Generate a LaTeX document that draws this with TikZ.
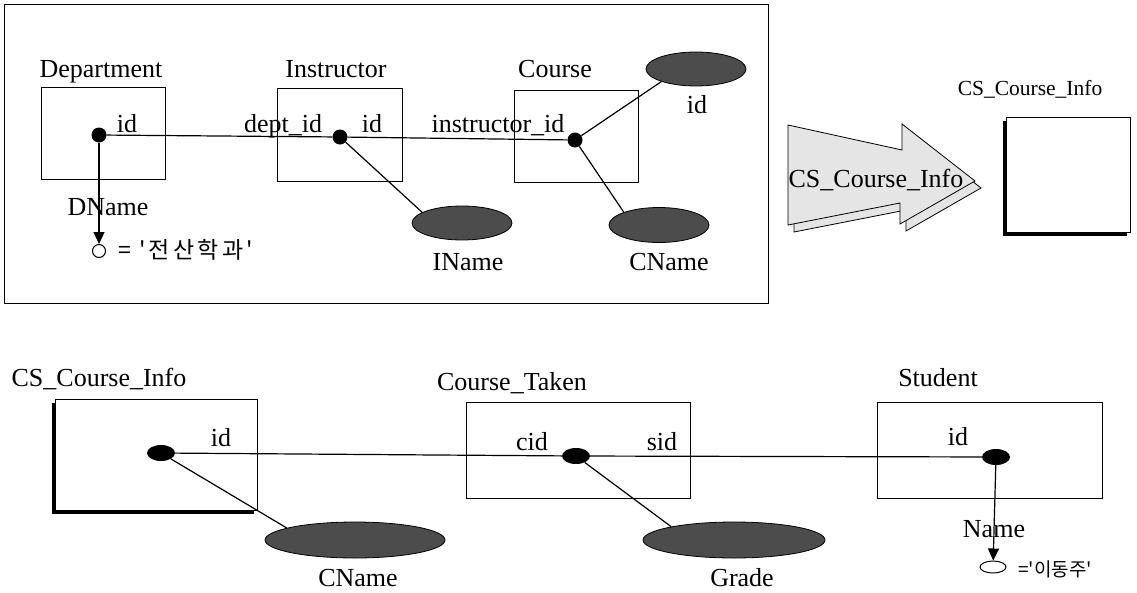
\documentclass[tikz,border=0pt]{standalone}
\usepackage{fontspec}
\setmainfont{Liberation Serif}
\newfontfamily\krfont{Noto Sans CJK KR}
\newfontfamily\krwide[LetterSpace=14]{Noto Sans CJK KR}
\usetikzlibrary{shapes.geometric,arrows.meta,shadows}

\tikzset{
  entity/.style={draw, line width=0.9pt, fill=white, inner sep=0pt},
  shadowed/.style={drop shadow={shadow xshift=-3.5pt, shadow yshift=-3.5pt, fill=black, opacity=1}},
  key/.style={circle, fill=black, inner sep=0pt, minimum size=15pt},
  keyoval/.style={ellipse, fill=black, inner sep=0pt, minimum width=28pt, minimum height=16pt},
  attr/.style={ellipse, draw, line width=0.8pt, fill=black!70, inner sep=0pt},
  sel/.style={ellipse, draw, line width=1pt, fill=white, inner sep=0pt},
  lbl/.style={anchor=base, inner sep=0pt, font=\fontsize{26}{30}\selectfont},
  kr/.style={anchor=base west, inner sep=0pt},
  link/.style={line width=1.2pt},
}

\begin{document}
\begin{tikzpicture}[x=1pt,y=-1pt]
  \useasboundingbox (0,0) rectangle (1137,592);
  \def\fat{-{Triangle[length=12pt,width=11pt]}}

  % query frame
  \draw[line width=1pt] (4,4) rectangle (768,303);

  % tables of the first query
  \node[entity, minimum width=124pt, minimum height=92pt] (dept) at (103,133) {};
  \node[entity, minimum width=125pt, minimum height=93pt] (instr) at (339.5,134.5) {};
  \node[entity, minimum width=124pt, minimum height=92pt] (course) at (576,136) {};
  \node[lbl] (deptname) at (101,77) {Department};
  \node[lbl] (instrname) at (336,77) {Instructor};
  \node[lbl] (coursename) at (555,77) {Course};

  \node[key] (ddot) at (99,135) {};
  \node[key] (idot) at (340,137) {};
  \node[key] (cdot) at (575,140) {};
  \node[lbl] (did) at (127,132) {id};
  \node[lbl] (ideptid) at (283,132) {dept\_id};
  \node[lbl] (iid) at (372,132) {id};
  \node[lbl] (cinstrid) at (498,132) {instructor\_id};

  \node[attr, minimum width=100pt, minimum height=34pt] (cidattr) at (696,69) {};
  \node[attr, minimum width=100pt, minimum height=34pt] (iname) at (462,223) {};
  \node[attr, minimum width=100pt, minimum height=35pt] (cname) at (659,225) {};
  \node[lbl] (cidtext) at (697,113) {id};
  \node[lbl] (inametext) at (468,270) {IName};
  \node[lbl] (cnametext) at (669,270) {CName};

  \node[sel, minimum size=13pt] (dsel) at (99,251) {};
  \node[lbl] (dname) at (108,215) {DName};
  \node[kr, font=\krwide\fontsize{23}{27}\selectfont] (dval) at (118,258) {= '전산학과'};

  \draw[link] (ddot) -- (idot) -- (cdot);
  \draw[link] (idot) -- (iname.165);
  \draw[link] (cdot) -- (cidattr.200);
  \draw[link] (cdot) -- (cname.160);
  \draw[link,\fat] (ddot) -- (dsel);

  % the view it defines
  \draw[line width=0.8pt, fill=black!10] (794,132) -- (908,157) -- (908,131) -- (981,188)
    -- (906,231) -- (906,210) -- (794,232) -- cycle;
  \draw[line width=0.8pt, fill=black!10] (788,125) -- (902,150) -- (902,124) -- (975,181)
    -- (900,224) -- (900,203) -- (788,225) -- cycle;
  \node[lbl] (viewarrow) at (876,187) {CS\_Course\_Info};

  \node[entity, shadowed, minimum width=124pt, minimum height=115pt] (view) at (1068,174.5) {};
  \node[lbl, font=\fontsize{21.5}{26}\selectfont] (viewname) at (1030,95) {CS\_Course\_Info};

  % second query on the view
  \node[entity, shadowed, minimum width=202pt, minimum height=111pt] (csinfo) at (156,454.5) {};
  \node[entity, minimum width=224pt, minimum height=96pt] (taken) at (578,450) {};
  \node[entity, minimum width=225pt, minimum height=96pt] (student) at (989.5,450) {};
  \node[lbl] (csinfoname) at (99,386) {CS\_Course\_Info};
  \node[lbl] (takenname) at (512,390) {Course\_Taken};
  \node[lbl] (studentname) at (938,386) {Student};

  \node[keyoval] (csdot) at (161,453) {};
  \node[keyoval] (tdot) at (576,456) {};
  \node[keyoval] (sdot) at (996,457) {};
  \node[lbl] (csid) at (221,446) {id};
  \node[lbl] (tcid) at (532,450) {cid};
  \node[lbl] (tsid) at (662,450) {sid};
  \node[lbl] (sid) at (958,445) {id};

  \node[attr, minimum width=180pt, minimum height=36pt] (cname2) at (355,540) {};
  \node[attr, minimum width=182pt, minimum height=36pt] (grade) at (734,540) {};
  \node[lbl] (cname2text) at (358,586) {CName};
  \node[lbl] (gradetext) at (742,586) {Grade};

  \node[sel, minimum width=26pt, minimum height=12pt] (ssel) at (993,567) {};
  \node[lbl] (sname) at (994,537) {Name};
  \node[kr, font=\krfont\fontsize{19}{22}\selectfont] (sval) at (1018,576) {='이동주'};

  \draw[link] (csdot) -- (tdot) -- (sdot);
  \draw[link] (csdot) -- (cname2.170);
  \draw[link] (tdot) -- (grade.168);
  \draw[link,\fat] (sdot) -- (ssel);
\end{tikzpicture}
\end{document}
